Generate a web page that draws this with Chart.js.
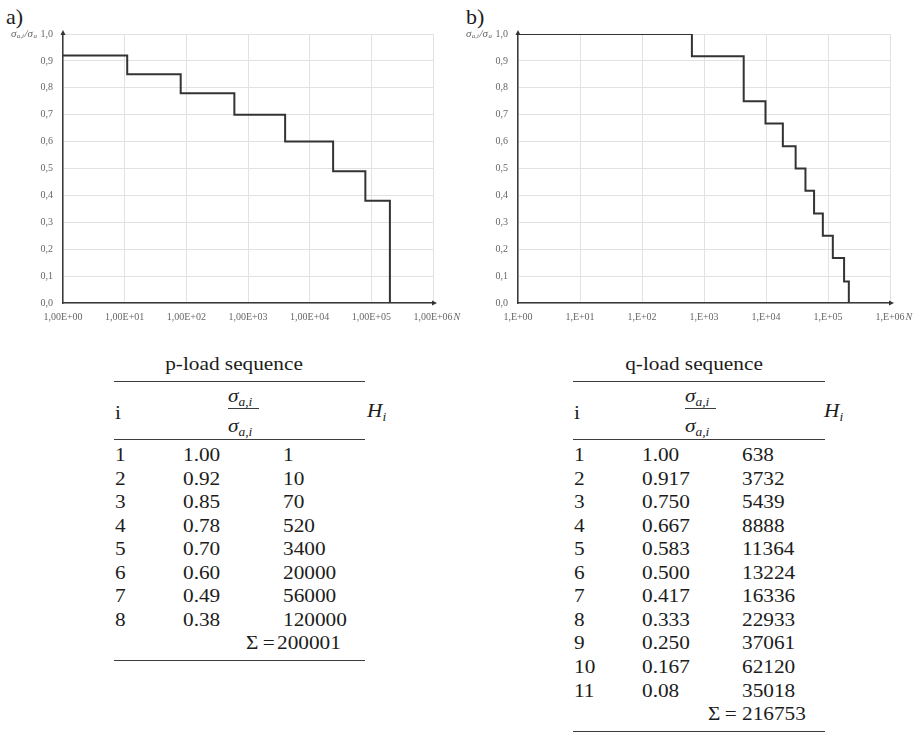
<!DOCTYPE html>
<html>
<head>
<meta charset="utf-8">
<script src="https://cdn.jsdelivr.net/npm/chart.js@4.4.1/dist/chart.umd.min.js"></script>
<style>
html, body { margin: 0; padding: 0; background: #fff; }
#page { position: relative; width: 915px; height: 732px; overflow: hidden; font-family: 'Liberation Serif', 'Times New Roman', serif; color: #1c1c1c; }
canvas { position: absolute; }
.lbl { position: absolute; font-size: 22px; line-height: 1; }
.t { position: absolute; font-size: 19px; line-height: 1; white-space: nowrap; transform: translateY(-50%) scaleX(1.12); transform-origin: 0 50%; }
.c { transform: translate(-50%, -50%) scaleX(1.12); transform-origin: 50% 50%; }
.it { font-style: italic; }
.it sub { font-size: 12px; vertical-align: -4px; }
.rule { position: absolute; height: 0; border-top: 1.3px solid #3c3c3c; }
</style>
</head>
<body>
<div id="page">
  <div class="lbl" style="left:6px;top:6px">a)</div>
  <div class="lbl" style="left:466px;top:6px">b)</div>
  <canvas id="chartA" width="465" height="330" style="left:0;top:0"></canvas>
  <canvas id="chartB" width="460" height="330" style="left:455px;top:0"></canvas>
  <div id="tables"></div>
</div>
<script>
// axis ticks
const xDecades = [1, 10, 100, 1e3, 1e4, 1e5, 1e6];
const xLabelsA = ['1,00E+00', '1,00E+01', '1,00E+02', '1,00E+03', '1,00E+04', '1,00E+05', '1,00E+06'];
const xLabelsB = ['1,E+00', '1,E+01', '1,E+02', '1,E+03', '1,E+04', '1,E+05', '1,E+06'];
const yValues = [0, 0.1, 0.2, 0.3, 0.4, 0.5, 0.6, 0.7, 0.8, 0.9, 1.0];
const yLabels = ['0,0', '0,1', '0,2', '0,3', '0,4', '0,5', '0,6', '0,7', '0,8', '0,9', '1,0'];

// p-load sequence
const pIdx = [1, 2, 3, 4, 5, 6, 7, 8];
const pRatio = ['1.00', '0.92', '0.85', '0.78', '0.70', '0.60', '0.49', '0.38'];
const pCycles = [1, 10, 70, 520, 3400, 20000, 56000, 120000];
const pSum = 200001;
// step curve a): N where each level ends, and the level that follows
const pStepN = [1, 11, 81, 601, 4001, 24001, 80001, 200001];
const pStepLevel = [0.92, 0.85, 0.78, 0.70, 0.60, 0.49, 0.38, 0];

// q-load sequence
const qIdx = [1, 2, 3, 4, 5, 6, 7, 8, 9, 10, 11];
const qRatio = ['1.00', '0.917', '0.750', '0.667', '0.583', '0.500', '0.417', '0.333', '0.250', '0.167', '0.08'];
const qCycles = [638, 3732, 5439, 8888, 11364, 13224, 16336, 22933, 37061, 62120, 35018];
const qSum = 216753;
// step curve b)
const qStepN = [1, 638, 4370, 9809, 18697, 30061, 43285, 59621, 82554, 119615, 181735, 216753];
const qStepLevel = [1.0, 0.917, 0.75, 0.667, 0.583, 0.5, 0.417, 0.333, 0.25, 0.167, 0.08, 0];

const tickFont = { family: "'Liberation Serif', serif", size: 10 };

// arrows, y title with subscripts, x title N
const axisDecor = {
    id: 'axisDecor',
    afterDraw(chart) {
        const { ctx, chartArea: a, scales } = chart;
        ctx.save();
        ctx.fillStyle = '#333';
        ctx.beginPath();
        ctx.moveTo(a.left, a.top - 4);
        ctx.lineTo(a.left - 2.5, a.top + 1);
        ctx.lineTo(a.left + 2.5, a.top + 1);
        ctx.fill();
        ctx.beginPath();
        ctx.moveTo(a.right + 4, a.bottom);
        ctx.lineTo(a.right - 1, a.bottom - 2.5);
        ctx.lineTo(a.right - 1, a.bottom + 2.5);
        ctx.fill();

        ctx.fillStyle = '#666';
        ctx.textBaseline = 'middle';
        // y title left of the 1,0 label
        ctx.font = "10px 'Liberation Serif', serif";
        const top = scales.y.getPixelForValue(1);
        const labelLeft = a.left - 10 - ctx.measureText('1,0').width;
        const parts = [
            ['σ', "italic 11px 'Liberation Serif', serif", 0],
            ['a,i', "italic 7px 'Liberation Serif', serif", 2.5],
            ['/σ', "italic 11px 'Liberation Serif', serif", 0],
            ['a', "italic 7px 'Liberation Serif', serif", 2.5]
        ];
        let w = 0;
        parts.forEach(p => { ctx.font = p[1]; w += ctx.measureText(p[0]).width + 0.5; });
        let x = labelLeft - 3 - w;
        ctx.textAlign = 'left';
        parts.forEach(p => {
            ctx.font = p[1];
            ctx.fillText(p[0], x, top + p[2]);
            x += ctx.measureText(p[0]).width + 0.5;
        });

        // N after last x label
        ctx.font = "10px 'Liberation Serif', serif";
        const lastLabel = chart.options.scales.x.ticks.callback(1e6, 6);
        const xr = scales.x.getPixelForValue(1e6) + ctx.measureText(lastLabel).width / 2 + 1;
        ctx.font = "italic 10px 'Liberation Serif', serif";
        ctx.fillText('N', xr, a.bottom + 14);
        ctx.restore();
    }
};

function makeChart(id, stepN, stepLevel, xLabels, padRight) {
    return new Chart(document.getElementById(id), {
        type: 'line',
        data: {
            datasets: [{
                data: stepN.map((n, i) => ({ x: n, y: stepLevel[i] })),
                stepped: 'before',
                borderColor: '#333',
                borderWidth: 2,
                pointRadius: 0,
                fill: false
            }]
        },
        options: {
            responsive: false,
            animation: false,
            layout: { padding: { top: 34, right: padRight, left: 0, bottom: 0 } },
            plugins: { legend: { display: false }, tooltip: { enabled: false } },
            scales: {
                x: {
                    type: 'logarithmic',
                    min: 1,
                    max: 1e6,
                    afterBuildTicks: s => { s.ticks = xDecades.map(v => ({ value: v })); },
                    afterFit: s => { s.height = 27; },
                    grid: { color: '#e2e2e2', drawTicks: false },
                    border: { color: '#3a3a3a', width: 1.5 },
                    ticks: {
                        autoSkip: false,
                        maxRotation: 0,
                        padding: 8,
                        font: tickFont,
                        color: '#666',
                        callback: (v, i) => xLabels[i]
                    }
                },
                y: {
                    min: 0,
                    max: 1,
                    afterBuildTicks: s => { s.ticks = yValues.map(v => ({ value: v })); },
                    afterFit: s => { s.width = 63; },
                    grid: { color: '#e2e2e2', drawTicks: false },
                    border: { color: '#3a3a3a', width: 1.5 },
                    ticks: {
                        padding: 10,
                        font: tickFont,
                        color: '#666',
                        callback: (v, i) => yLabels[i]
                    }
                }
            }
        },
        plugins: [axisDecor]
    });
}

makeChart('chartA', pStepN, pStepLevel, xLabelsA, 32);
makeChart('chartB', qStepN, qStepLevel, xLabelsB, 25);

// ----------------------------------------------------
// Tables
// ----------------------------------------------------
const tables = document.getElementById('tables');

function addText(html, left, y, cls) {
    const el = document.createElement('div');
    el.className = 't' + (cls ? ' ' + cls : '');
    el.style.left = left + 'px';
    el.style.top = y + 'px';
    el.innerHTML = html;
    tables.appendChild(el);
}

function addRule(left, right, y) {
    const el = document.createElement('div');
    el.className = 'rule';
    el.style.left = left + 'px';
    el.style.width = (right - left) + 'px';
    el.style.top = y + 'px';
    tables.appendChild(el);
}

function buildTable(title, titleX, ruleL, ruleR, cols, fracX, hX, idx, ratio, cycles, sum, sumX, sumNumX) {
    const rowH = 23.55;
    const firstRow = 454;
    addText(title, titleX, 363, 'c');
    addRule(ruleL, ruleR, 381);
    addText('i', cols[0], 412);
    addText('σ<sub>a,i</sub>', fracX, 397, 'it');
    addRule(fracX, fracX + 31, 408);
    addText('σ<sub>a,i</sub>', fracX, 427, 'it');
    addText('H<sub>i</sub>', hX, 412, 'it');
    addRule(ruleL, ruleR, 439);
    idx.forEach((n, i) => {
        const y = firstRow + i * rowH;
        addText(String(n), cols[0], y);
        addText(ratio[i], cols[1], y);
        addText(String(cycles[i]), cols[2], y);
    });
    const ySum = firstRow + idx.length * rowH;
    addText('Σ&thinsp;=', sumX, ySum);
    addText(String(sum), sumNumX, ySum);
    addRule(ruleL, ruleR, ySum + 18);
}

buildTable('p-load sequence', 234, 114, 365, [115, 183, 283], 228, 367, pIdx, pRatio, pCycles, pSum, 246, 277);
buildTable('q-load sequence', 694, 573, 825, [574, 642, 742], 685, 824, qIdx, qRatio, qCycles, qSum, 708, 742);
</script>
</body>
</html>
